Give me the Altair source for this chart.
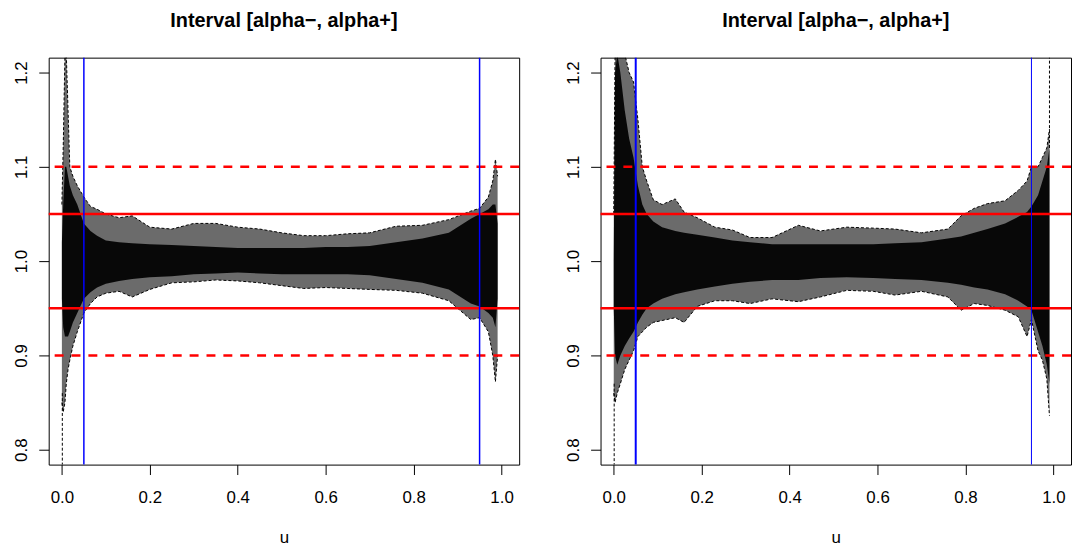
import altair as alt
import pandas as pd

FONT = "Liberation Sans"
TITLE = "Interval [alpha\u2212, alpha+]"

# axis domains and ticks
X_DOMAIN = [-0.03, 1.04]
Y_DOMAIN = [0.7842, 1.2158]
x_ticks = [0.0, 0.2, 0.4, 0.6, 0.8, 1.0]
y_ticks = [0.8, 0.9, 1.0, 1.1, 1.2]

# reference lines
red_solid = [0.95, 1.05]
red_dashed = [0.90, 1.10]
blue_lines = [0.05, 0.95]

# ---- left panel: envelope of the simulated curves ----
left_u = [0.000, 0.003, 0.007, 0.010, 0.014, 0.018, 0.025, 0.035, 0.05, 0.065,
          0.08, 0.1, 0.13, 0.16, 0.2, 0.25, 0.3, 0.35, 0.4, 0.45, 0.5, 0.55,
          0.6, 0.65, 0.7, 0.76, 0.82, 0.88, 0.93, 0.95, 0.97, 0.98, 0.986, 0.991]
left_hi = [1.06, 1.12, 1.22, 1.22, 1.16, 1.10, 1.09, 1.08, 1.068, 1.058,
           1.055, 1.05, 1.046, 1.048, 1.036, 1.034, 1.04, 1.04, 1.036, 1.034, 1.03, 1.027,
           1.027, 1.029, 1.03, 1.037, 1.038, 1.044, 1.053, 1.056, 1.068, 1.085, 1.108, 1.09]
left_lo = [0.85, 0.84, 0.85, 0.87, 0.885, 0.895, 0.91, 0.925, 0.945, 0.955,
           0.962, 0.966, 0.968, 0.962, 0.97, 0.977, 0.978, 0.98, 0.979, 0.977, 0.974, 0.971,
           0.972, 0.971, 0.97, 0.969, 0.966, 0.958, 0.938, 0.94, 0.925, 0.9, 0.872, 0.9]
left_core_hi = [1.02, 1.06, 1.10, 1.10, 1.09, 1.08, 1.07, 1.06, 1.04, 1.032,
                1.027, 1.022, 1.02, 1.019, 1.018, 1.017, 1.016, 1.015, 1.014, 1.014, 1.014, 1.014,
                1.015, 1.015, 1.016, 1.02, 1.024, 1.03, 1.045, 1.05, 1.055, 1.06, 1.06, 1.04]
left_core_lo = [0.96, 0.93, 0.92, 0.92, 0.92, 0.925, 0.935, 0.945, 0.96, 0.967,
                0.972, 0.976, 0.979, 0.981, 0.983, 0.984, 0.986, 0.987, 0.988, 0.987, 0.986, 0.986,
                0.986, 0.986, 0.985, 0.981, 0.977, 0.97, 0.955, 0.952, 0.945, 0.94, 0.93, 0.96]
left_spike_id = ["a", "a"]
left_spike_u = [0.001, 0.001]
left_spike_y = [0.86, 0.78]

# ---- right panel ----
right_u = [0.000, 0.003, 0.008, 0.015, 0.025, 0.035, 0.045, 0.055, 0.065, 0.075,
           0.09, 0.11, 0.14, 0.16, 0.19, 0.23, 0.27, 0.31, 0.36, 0.42, 0.47, 0.53,
           0.59, 0.64, 0.7, 0.76, 0.79, 0.82, 0.85, 0.89, 0.92, 0.94, 0.95, 0.965,
           0.975, 0.985, 0.991]
right_hi = [1.05, 1.22, 1.22, 1.22, 1.22, 1.20, 1.19, 1.15, 1.10, 1.085,
            1.065, 1.06, 1.066, 1.052, 1.046, 1.036, 1.033, 1.025, 1.025, 1.038, 1.032, 1.036,
            1.035, 1.034, 1.03, 1.034, 1.048, 1.056, 1.061, 1.064, 1.075, 1.085, 1.10, 1.10,
            1.11, 1.12, 1.14]
right_lo = [0.86, 0.85, 0.86, 0.87, 0.885, 0.895, 0.905, 0.92, 0.925, 0.93,
            0.935, 0.937, 0.94, 0.935, 0.952, 0.958, 0.958, 0.955, 0.96, 0.957, 0.962, 0.969,
            0.968, 0.964, 0.968, 0.962, 0.948, 0.955, 0.953, 0.948, 0.941, 0.92, 0.938, 0.905,
            0.895, 0.875, 0.836]
right_core_hi = [1.0, 1.20, 1.22, 1.20, 1.16, 1.13, 1.11, 1.08, 1.06, 1.05,
                 1.042, 1.036, 1.032, 1.03, 1.028, 1.025, 1.022, 1.02, 1.018, 1.018, 1.018, 1.018,
                 1.018, 1.019, 1.02, 1.024, 1.026, 1.03, 1.034, 1.04, 1.047, 1.052, 1.058, 1.07,
                 1.085, 1.10, 1.12]
right_core_lo = [0.95, 0.90, 0.89, 0.90, 0.91, 0.918, 0.925, 0.935, 0.943, 0.95,
                 0.955, 0.96, 0.965, 0.967, 0.97, 0.973, 0.976, 0.978, 0.98, 0.98, 0.982, 0.983,
                 0.982, 0.981, 0.98, 0.977, 0.975, 0.972, 0.97, 0.965, 0.958, 0.952, 0.948, 0.925,
                 0.91, 0.89, 0.87]
right_spike_id = ["a", "a", "b", "b"]
right_spike_u = [0.001, 0.001, 0.991, 0.991]
right_spike_y = [0.87, 0.78, 1.12, 1.22]


def make_panel(u, hi, lo, chi, clo, sid, su, sy, blue_widths):
    df = pd.DataFrame({"u": u, "hi": hi, "lo": lo, "chi": chi, "clo": clo})
    spikes = pd.DataFrame({"id": sid, "u": su, "v": sy})

    xscale = alt.Scale(domain=X_DOMAIN, nice=False, zero=False)
    yscale = alt.Scale(domain=Y_DOMAIN, nice=False, zero=False)
    xaxis = alt.Axis(values=x_ticks, format=".1f", title="u", grid=False, domain=False,
                     tickSize=10, tickColor="black", labelFont=FONT, labelFontSize=17,
                     labelColor="black", labelPadding=15, labelFlush=False,
                     titleFont=FONT, titleFontSize=17, titleFontWeight="normal",
                     titleColor="black", titlePadding=24)
    yaxis = alt.Axis(values=y_ticks, format=".1f", title=None, grid=False, domain=False,
                     tickSize=10, tickColor="black", labelFont=FONT, labelFontSize=17,
                     labelColor="black", labelAngle=270, labelAlign="center",
                     labelBaseline="alphabetic", labelPadding=12, labelFlush=False,
                     minExtent=40, maxExtent=40)
    X = alt.X("u:Q", scale=xscale, axis=xaxis)
    base = alt.Chart(df)
    outer = base.mark_area(color="black", opacity=0.58, clip=True).encode(
        x=X, y=alt.Y("lo:Q", scale=yscale, axis=yaxis), y2="hi:Q")
    core = base.mark_area(color="black", opacity=0.92, clip=True).encode(
        x=X, y=alt.Y("clo:Q", scale=yscale, axis=yaxis), y2="chi:Q")
    hiline = base.mark_line(color="black", strokeWidth=1, strokeDash=[3, 2], clip=True).encode(
        x=X, y=alt.Y("hi:Q", scale=yscale, axis=yaxis))
    loline = base.mark_line(color="black", strokeWidth=1, strokeDash=[3, 2], clip=True).encode(
        x=X, y=alt.Y("lo:Q", scale=yscale, axis=yaxis))
    spk = alt.Chart(spikes).mark_line(color="black", strokeWidth=1, strokeDash=[3, 2],
                                      clip=True).encode(
        x=X, y=alt.Y("v:Q", scale=yscale, axis=yaxis), detail="id:N")

    rs = alt.Chart(pd.DataFrame({"v": red_solid})).mark_rule(color="#ff0000", strokeWidth=2.5).encode(
        y=alt.Y("v:Q", scale=yscale, axis=yaxis))
    rd = alt.Chart(pd.DataFrame({"v": red_dashed})).mark_rule(
        color="#ff0000", strokeWidth=2.5, strokeDash=[9, 8]).encode(
        y=alt.Y("v:Q", scale=yscale, axis=yaxis))
    bl = alt.Chart(pd.DataFrame({"v": blue_lines, "w": blue_widths})).mark_rule(color="#0000ff").encode(
        x=alt.X("v:Q", scale=xscale, axis=xaxis),
        strokeWidth=alt.StrokeWidth("w:Q", scale=None, legend=None))

    return alt.layer(outer, core, hiline, loline, spk, rs, rd, bl).properties(
        width=474, height=410,
        title=alt.TitleParams(TITLE, font=FONT, fontSize=20, fontWeight="bold",
                              color="black", anchor="middle", offset=26))


left = make_panel(left_u, left_hi, left_lo, left_core_hi, left_core_lo,
                  left_spike_id, left_spike_u, left_spike_y, [1.5, 1.5])
right = make_panel(right_u, right_hi, right_lo, right_core_hi, right_core_lo,
                   right_spike_id, right_spike_u, right_spike_y, [2.0, 1.0])

chart = alt.hconcat(left, right, spacing=39).properties(
    padding=0, background="white"
).configure_view(stroke="black", strokeWidth=1)

chart.save("out.html", embed_options={"renderer": "svg", "actions": False})
